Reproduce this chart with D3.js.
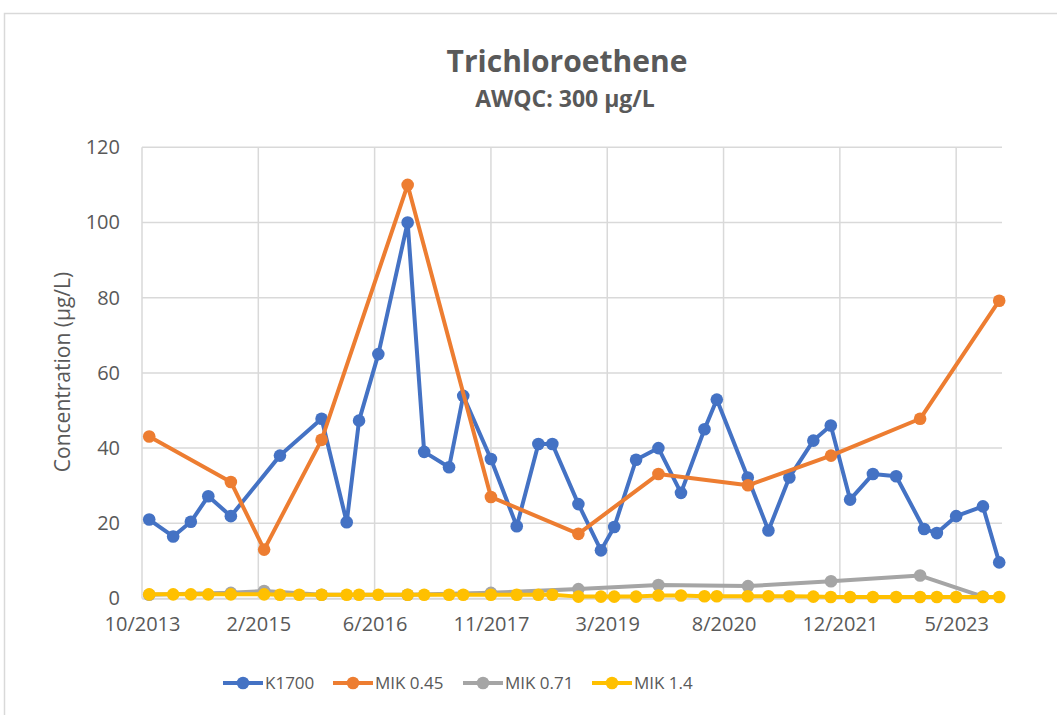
<!DOCTYPE html>
<html>
<head>
<meta charset="utf-8">
<script src="https://cdn.jsdelivr.net/npm/d3@7/dist/d3.min.js"></script>
<style>
  html, body { margin: 0; padding: 0; background: #ffffff; }
  svg { display: block; }
  text { font-family: "Open Sans", "Noto Sans", sans-serif; fill: #595959; }
</style>
</head>
<body>
<svg id="chart" width="1057" height="715"></svg>
<script>
// ---------- data ----------
const seriesNames = ["K1700", "MIK 0.45", "MIK 0.71", "MIK 1.4"];
const seriesColors = ["#4472C4", "#ED7D31", "#A5A5A5", "#FFC000"];

const k1700Dates = ["2013-11-01","2014-02-12","2014-04-29","2014-07-13","2014-10-18","2015-05-17","2015-11-12","2016-02-28","2016-04-21","2016-07-13","2016-11-16","2017-01-26","2017-05-13","2017-07-13","2017-11-09","2018-02-28","2018-06-01","2018-07-31","2018-11-20","2019-02-25","2019-04-23","2019-07-26","2019-10-30","2020-02-04","2020-05-15","2020-07-07","2020-11-17","2021-02-14","2021-05-15","2021-08-26","2021-11-09","2022-01-31","2022-05-09","2022-08-17","2022-12-15","2023-02-08","2023-05-02","2023-08-25","2023-11-03"];
const k1700Values = [21, 16.5, 20.4, 27.2, 21.9, 38, 47.8, 20.3, 47.3, 65, 100, 39, 34.9, 53.9, 37.1, 19.2, 41.1, 41.1, 25.1, 12.8, 19, 36.9, 40, 28.1, 45, 52.9, 32.2, 18.1, 32.2, 42, 46, 26.3, 33.1, 32.5, 18.5, 17.4, 21.9, 24.5, 9.6];

const mik045Dates = ["2013-11-01","2014-10-18","2015-03-10","2015-11-12","2016-11-16","2017-11-09","2018-11-20","2019-10-30","2020-11-18","2021-11-10","2022-11-28","2023-11-03"];
const mik045Values = [43.1, 31, 13, 42.2, 110, 27, 17.2, 33.1, 30.1, 38, 47.8, 79.2];

const mik071Dates = ["2013-11-01","2014-10-18","2015-03-10","2015-11-12","2016-11-16","2017-11-09","2018-11-20","2019-10-30","2020-11-18","2021-11-10","2022-11-28","2023-08-25"];
const mik071Values = [1, 1.5, 2, 1, 1, 1.5, 2.5, 3.6, 3.3, 4.6, 6.1, 0.5];

const mik14Dates = ["2013-11-01","2014-02-12","2014-04-29","2014-07-13","2014-10-18","2015-03-10","2015-05-17","2015-08-08","2015-11-12","2016-02-28","2016-04-21","2016-07-13","2016-11-16","2017-01-26","2017-05-13","2017-07-13","2017-11-09","2018-02-28","2018-06-01","2018-07-31","2018-11-20","2019-02-25","2019-04-23","2019-07-26","2019-10-30","2020-02-04","2020-05-15","2020-07-07","2020-11-17","2021-02-14","2021-05-15","2021-08-26","2021-11-09","2022-01-31","2022-05-09","2022-08-17","2022-11-28","2023-02-08","2023-05-02","2023-08-25","2023-11-03"];
const mik14Values = [1.1, 1.1, 1.1, 1.1, 1.1, 1.1, 1.0, 1.0, 1.0, 1.0, 1.0, 1.0, 1.0, 1.0, 1.0, 1.0, 1.0, 1.0, 1.0, 1.0, 0.5, 0.5, 0.5, 0.5, 0.8, 0.8, 0.6, 0.6, 0.6, 0.6, 0.6, 0.5, 0.4, 0.4, 0.4, 0.4, 0.4, 0.4, 0.4, 0.4, 0.4];

const yTicks = [0, 20, 40, 60, 80, 100, 120];
const xAxisStart = "2013-10-01";
const xAxisEnd = "2023-11-15";
const xMajorUnitDays = 500;
const xTickCount = 8;

const titleText = "Trichloroethene";
const subtitleText = "AWQC: 300 µg/L";
const yTitleText = "Concentration (µg/L)";

// ---------- layout ----------
const parse = d3.timeParse("%Y-%m-%d");
const fmt = d3.timeFormat("%-m/%Y");
const plot = { left: 142, right: 1002, top: 147.3, bottom: 598.5 };

const svg = d3.select("#chart");

svg.append("rect")
  .attr("x", 4.5).attr("y", 13.5)
  .attr("width", 1070).attr("height", 720)
  .attr("fill", "#ffffff").attr("stroke", "#d9d9d9").attr("stroke-width", 1.5);

const x = d3.scaleTime()
  .domain([parse(xAxisStart), parse(xAxisEnd)])
  .range([plot.left, plot.right]);
const y = d3.scaleLinear().domain([0, 120]).range([plot.bottom, plot.top]);

const xTickDates = d3.range(xTickCount).map(i => d3.timeDay.offset(parse(xAxisStart), i * xMajorUnitDays));

// gridlines
const grid = svg.append("g");
grid.selectAll("line.h").data(yTicks).join("line")
  .attr("x1", plot.left).attr("x2", plot.right)
  .attr("y1", d => y(d)).attr("y2", d => y(d))
  .attr("stroke", "#d9d9d9").attr("stroke-width", 1.5);
grid.selectAll("line.v").data(xTickDates).join("line")
  .attr("x1", d => x(d)).attr("x2", d => x(d))
  .attr("y1", plot.top).attr("y2", plot.bottom)
  .attr("stroke", "#d9d9d9").attr("stroke-width", 1.5);

// y axis
const yAxis = svg.append("g")
  .attr("transform", `translate(${plot.left},0)`)
  .call(d3.axisLeft(y).tickValues(yTicks).tickSize(0).tickPadding(22));
yAxis.select(".domain").remove();
yAxis.selectAll("text")
  .style("font-size", "20px")
  .style("fill", "#595959");

// x axis
const xAxis = svg.append("g")
  .attr("transform", `translate(0,${plot.bottom})`)
  .call(d3.axisBottom(x).tickValues(xTickDates).tickFormat(fmt).tickSize(0).tickPadding(18));
xAxis.select(".domain").attr("stroke", "#d9d9d9").attr("stroke-width", 1.5);
xAxis.selectAll("text")
  .style("font-size", "20px")
  .style("fill", "#595959");

// series
const seriesData = [
  { dates: k1700Dates, values: k1700Values },
  { dates: mik045Dates, values: mik045Values },
  { dates: mik071Dates, values: mik071Values },
  { dates: mik14Dates, values: mik14Values }
];
const line = d3.line().x(d => x(d.date)).y(d => y(d.value));

seriesData.forEach((s, i) => {
  const pts = s.dates.map((d, j) => ({ date: parse(d), value: s.values[j] }));
  const g = svg.append("g");
  g.append("path").datum(pts)
    .attr("d", line)
    .attr("fill", "none")
    .attr("stroke", seriesColors[i])
    .attr("stroke-width", 4)
    .attr("stroke-linejoin", "round")
    .attr("stroke-linecap", "round");
  g.selectAll("circle").data(pts).join("circle")
    .attr("cx", d => x(d.date))
    .attr("cy", d => y(d.value))
    .attr("r", 6.3)
    .attr("fill", seriesColors[i]);
});

// titles
svg.append("text")
  .attr("x", 567).attr("y", 72)
  .attr("text-anchor", "middle")
  .style("font-size", "30px").style("font-weight", "bold")
  .text(titleText);
svg.append("text")
  .attr("x", 565).attr("y", 107)
  .attr("text-anchor", "middle")
  .style("font-size", "23px").style("font-weight", "bold")
  .text(subtitleText);
svg.append("text")
  .attr("transform", "translate(70,372) rotate(-90)")
  .attr("text-anchor", "middle")
  .style("font-size", "21px")
  .text(yTitleText);

// legend
const legendX = [223, 333, 463, 592];
const legend = svg.append("g");
seriesNames.forEach((name, i) => {
  const lx = legendX[i];
  const ly = 683;
  legend.append("line")
    .attr("x1", lx).attr("x2", lx + 40)
    .attr("y1", ly).attr("y2", ly)
    .attr("stroke", seriesColors[i]).attr("stroke-width", 4);
  legend.append("circle")
    .attr("cx", lx + 20).attr("cy", ly).attr("r", 6.3)
    .attr("fill", seriesColors[i]);
  legend.append("text")
    .attr("x", lx + 42).attr("y", ly)
    .attr("dy", "0.35em")
    .style("font-size", "17px")
    .text(name);
});
</script>
</body>
</html>
